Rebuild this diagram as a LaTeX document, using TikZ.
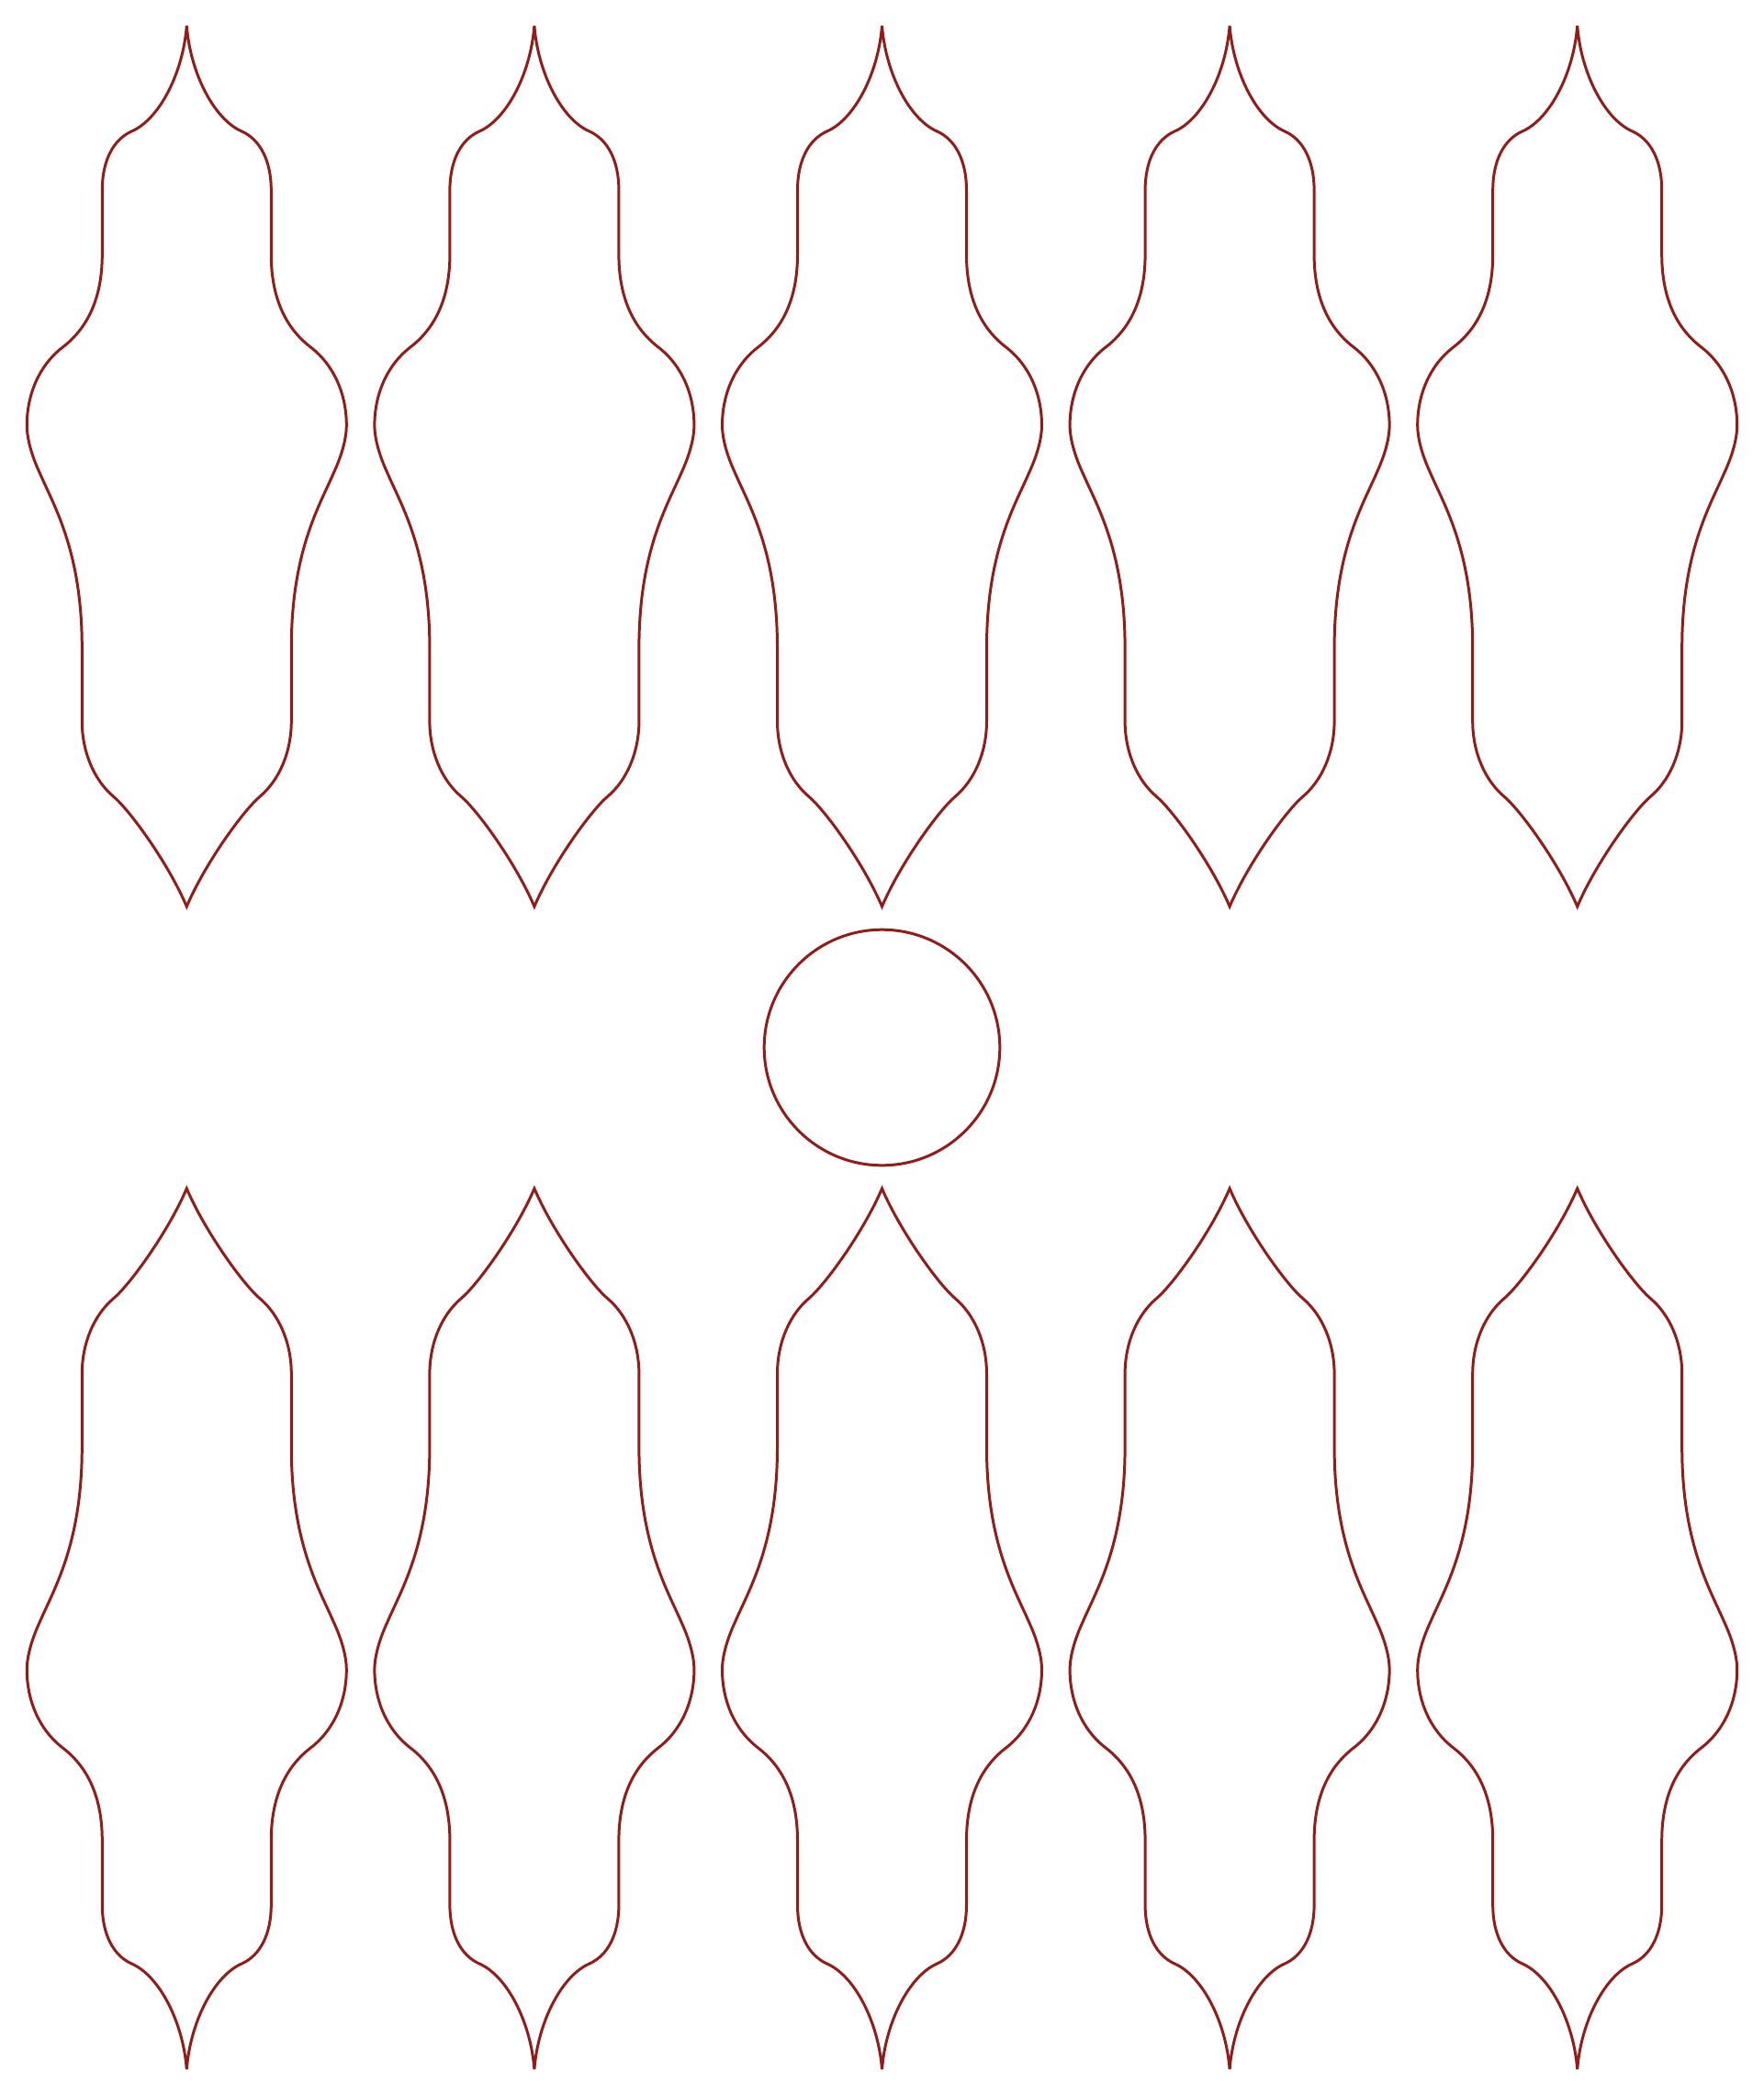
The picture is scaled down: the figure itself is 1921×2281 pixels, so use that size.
\documentclass[tikz,border=0pt]{standalone}
\definecolor{leafred}{RGB}{148,28,24}
\newcommand\leafshape{%
  \draw[leafline] (0,0)
    .. controls (-4,52) and (-30,102) .. (-60,115)
    .. controls (-80,124) and (-92,147) .. (-92,179)
    -- (-92,249)
    .. controls (-92,292) and (-105,327) .. (-135,350)
    .. controls (-161,370) and (-174,402) .. (-174,435)
    .. controls (-174,452) and (-167,472) .. (-160,487)
    .. controls (-145,522) and (-114,572) .. (-114,677)
    -- (-114,757)
    .. controls (-114,792) and (-100,822) .. (-80,839)
    .. controls (-62,854) and (-20,912) .. (0,959)
    .. controls (20,912) and (62,854) .. (80,839)
    .. controls (100,822) and (114,792) .. (114,757)
    -- (114,677)
    .. controls (114,572) and (145,522) .. (160,487)
    .. controls (167,472) and (174,452) .. (174,435)
    .. controls (174,402) and (161,370) .. (135,350)
    .. controls (105,327) and (92,292) .. (92,249)
    -- (92,179)
    .. controls (92,147) and (80,124) .. (60,115)
    .. controls (30,102) and (4,52) .. (0,0) -- cycle;}
\begin{document}
\begin{tikzpicture}[x=0.01cm,y=-0.01cm,
  leafline/.style={draw=leafred,line width=0.85pt,line join=miter}]
\useasboundingbox[fill=white] (0,0) rectangle (1921,2281);
\foreach \cx in {203.3,581.9,960.5,1339.1,1717.7}{
  \begin{scope}[shift={(\cx,28)}]\leafshape\end{scope}
  \begin{scope}[shift={(\cx,2253)},yscale=-1]\leafshape\end{scope}
}
\draw[leafline] (960.5,1140.5) circle[radius=128.3];
\end{tikzpicture}
\end{document}
